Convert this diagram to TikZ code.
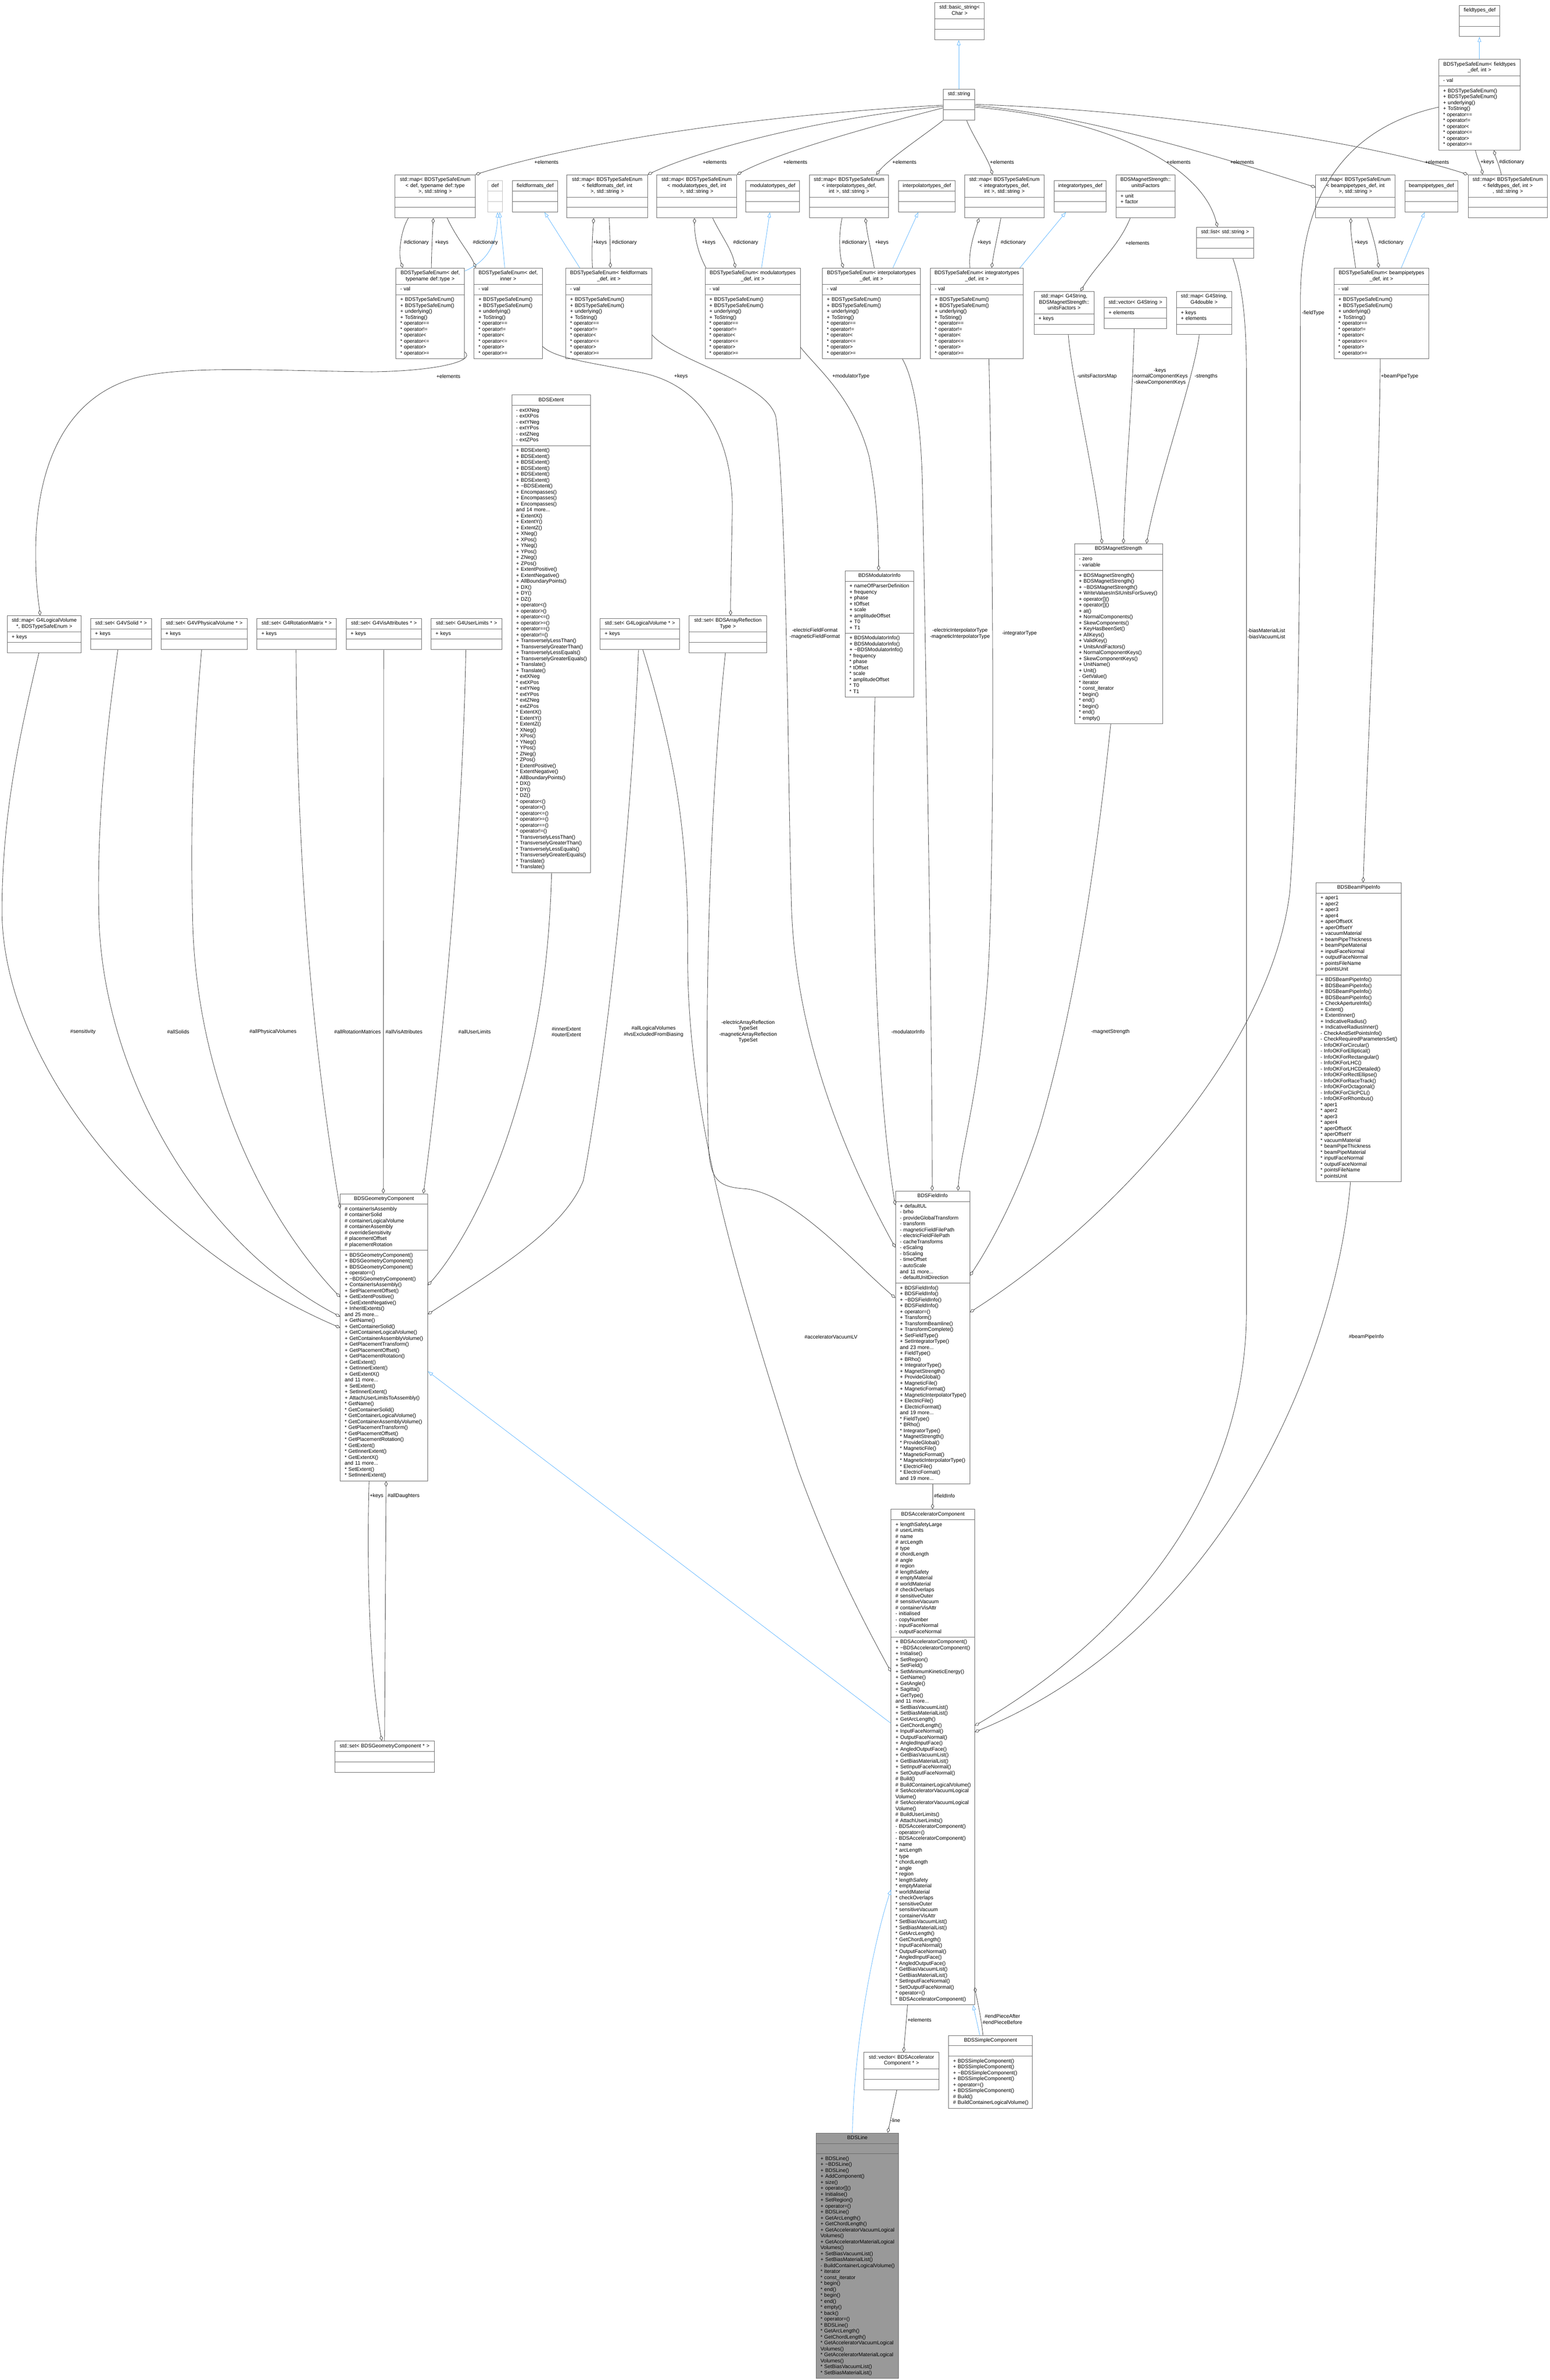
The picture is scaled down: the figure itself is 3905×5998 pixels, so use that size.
\documentclass[tikz,border=0pt]{standalone}
\usepackage{fontspec}
\setmainfont{Liberation Sans}
\usetikzlibrary{shapes.multipart,arrows.meta}
\setlength\parindent{0pt}
\definecolor{bordergray}{HTML}{666666}
\definecolor{edgegray}{HTML}{404040}
\definecolor{inhblue}{HTML}{63B8FF}
\definecolor{fadegray}{HTML}{BFBFBF}
\definecolor{linefill}{HTML}{999999}
\newcommand\fsz{\fontsize{13}{15}\selectfont}
\newcommand\Li[1]{\mbox{\strut#1}\par}
\newcommand\Hl[1]{\makebox[\hsize]{\strut#1}\par}
\newcommand\EE{\nodepart{two}\strut\nodepart{three}\strut}
\newcommand\KE{\nodepart{two}\Li{+ keys}\nodepart{three}\strut}
\newcommand\TSEbody{\nodepart{two}\Li{- val}\nodepart{three}\Li{+ BDSTypeSafeEnum()}\Li{+ BDSTypeSafeEnum()}\Li{+ underlying()}\Li{+ ToString()}\Li{* operator==}\Li{* operator!=}\Li{* operator<}\Li{* operator<=}\Li{* operator>}\Li{* operator>=}}
\newcommand\cls[5][]{\node[cls,#1,text width=#4pt] (#2) at (#3) {#5};}
\begin{document}
\begin{tikzpicture}[x=1pt,y=-1pt,
 cls/.style={rectangle split, rectangle split parts=3, draw=bordergray, line width=1.2pt, fill=white, inner xsep=11pt, inner ysep=5pt, font=\fsz, anchor=north west},
 faded/.style={draw=fadegray},
 agg/.style={draw=edgegray, line width=1pt, -{Diamond[open,length=14pt,width=8pt]}},
 inh/.style={draw=inhblue, line width=1pt, -{Triangle[open,length=13pt,width=9pt]}},
 lbl/.style={font=\fsz, align=center, inner sep=0pt, text=black}]
\fill[white] (0,0) rectangle (3905,5998);
\useasboundingbox (0,0) rectangle (3905,5998);
% ---------- top rows
\cls{bstr}{2355,6}{103}{\Hl{std::basic\_string<}\Hl{Char >}\EE}
\cls{ftdef}{3677,13}{80}{\Hl{fieldtypes\_def}\EE}
\cls{str}{2376,224}{58}{\Hl{std::string}\EE}
\cls{tseft}{3625,149}{183}{\Hl{BDSTypeSafeEnum< fieldtypes}\Hl{\_def, int >}\TSEbody}
\cls{mdt}{995,440}{180}{\Hl{std::map< BDSTypeSafeEnum}\Hl{< def, typename def::type}\Hl{>, std::string >}\EE}
\cls[faded]{def}{1228,455}{16}{\Hl{def}\EE}
\cls{ffdef}{1291,455}{92}{\Hl{fieldformats\_def}\EE}
\cls{mff}{1428,440}{181}{\Hl{std::map< BDSTypeSafeEnum}\Hl{< fieldformats\_def, int}\Hl{>, std::string >}\EE}
\cls{mmod}{1654,440}{180}{\Hl{std::map< BDSTypeSafeEnum}\Hl{< modulatortypes\_def, int}\Hl{>, std::string >}\EE}
\cls{moddef}{1879,455}{113}{\Hl{modulatortypes\_def}\EE}
\cls{mint}{2039,440}{178}{\Hl{std::map< BDSTypeSafeEnum}\Hl{< interpolatortypes\_def,}\Hl{int >, std::string >}\EE}
\cls{intdef}{2264,455}{120}{\Hl{interpolatortypes\_def}\EE}
\cls{mintg}{2430,440}{179}{\Hl{std::map< BDSTypeSafeEnum}\Hl{< integratortypes\_def,}\Hl{int >, std::string >}\EE}
\cls{intgdef}{2656,455}{109}{\Hl{integratortypes\_def}\EE}
\cls{uf}{2812,440}{126}{\Hl{BDSMagnetStrength::}\Hl{unitsFactors}\nodepart{two}\Li{+ unit}\Li{+ factor}\nodepart{three}\strut}
\cls{lst}{3014,572}{123}{\Hl{std::list< std::string >}\EE}
\cls{mbp}{3315,440}{178}{\Hl{std::map< BDSTypeSafeEnum}\Hl{< beampipetypes\_def, int}\Hl{>, std::string >}\EE}
\cls{bpdef}{3540,455}{111}{\Hl{beampipetypes\_def}\EE}
\cls{mft}{3699,440}{178}{\Hl{std::map< BDSTypeSafeEnum}\Hl{< fieldtypes\_def, int >}\Hl{, std::string >}\EE}
% ---------- type safe enums
\cls{tdt}{997,675}{151}{\Hl{BDSTypeSafeEnum< def,}\Hl{typename def::type >}\TSEbody}
\cls{tdi}{1194,675}{150}{\Hl{BDSTypeSafeEnum< def,}\Hl{inner >}\TSEbody}
\cls{tff}{1425,675}{195}{\Hl{BDSTypeSafeEnum< fieldformats}\Hl{\_def, int >}\TSEbody}
\cls{tmod}{1776,675}{218}{\Hl{BDSTypeSafeEnum< modulatortypes}\Hl{\_def, int >}\TSEbody}
\cls{tint}{2072,675}{225}{\Hl{BDSTypeSafeEnum< interpolatortypes}\Hl{\_def, int >}\TSEbody}
\cls{tintg}{2344,675}{212}{\Hl{BDSTypeSafeEnum< integratortypes}\Hl{\_def, int >}\TSEbody}
\cls{muf}{2605,734}{130}{\Hl{std::map< G4String,}\Hl{BDSMagnetStrength::}\Hl{unitsFactors >}\KE}
\cls{vg4}{2782,749}{135}{\Hl{std::vector< G4String >}\nodepart{two}\Li{+ elements}\nodepart{three}\strut}
\cls{mg4d}{2964,734}{117}{\Hl{std::map< G4String,}\Hl{G4double >}\nodepart{two}\Li{+ keys}\Li{+ elements}\nodepart{three}\strut}
\cls{tbp}{3361,675}{217}{\Hl{BDSTypeSafeEnum< beampipetypes}\Hl{\_def, int >}\TSEbody}
% ---------- sets row
\cls{mlv}{18,1551}{164}{\Hl{std::map< G4LogicalVolume}\Hl{*, BDSTypeSafeEnum >}\KE}
\cls{ssol}{228,1558}{131}{\Hl{std::set< G4VSolid * >}\KE}
\cls{spv}{405,1558}{196}{\Hl{std::set< G4VPhysicalVolume * >}\KE}
\cls{srm}{647,1558}{178}{\Hl{std::set< G4RotationMatrix * >}\KE}
\cls{sva}{872,1558}{168}{\Hl{std::set< G4VisAttributes * >}\KE}
\cls{sul}{1086,1558}{156}{\Hl{std::set< G4UserLimits * >}\KE}
\cls{slv}{1512,1558}{178}{\Hl{std::set< G4LogicalVolume * >}\KE}
\cls{sarr}{1736,1551}{173}{\Hl{std::set< BDSArrayReflection}\Hl{Type >}\EE}
\cls{ext}{1289,995}{177}{\Hl{BDSExtent}\nodepart{two}\Li{- extXNeg}\Li{- extXPos}\Li{- extYNeg}\Li{- extYPos}\Li{- extZNeg}\Li{- extZPos}\nodepart{three}\Li{+ BDSExtent()}\Li{+ BDSExtent()}\Li{+ BDSExtent()}\Li{+ BDSExtent()}\Li{+ BDSExtent()}\Li{+ BDSExtent()}\Li{+ \textasciitilde BDSExtent()}\Li{+ Encompasses()}\Li{+ Encompasses()}\Li{+ Encompasses()}\Li{and 14 more...}\Li{+ ExtentX()}\Li{+ ExtentY()}\Li{+ ExtentZ()}\Li{+ XNeg()}\Li{+ XPos()}\Li{+ YNeg()}\Li{+ YPos()}\Li{+ ZNeg()}\Li{+ ZPos()}\Li{+ ExtentPositive()}\Li{+ ExtentNegative()}\Li{+ AllBoundaryPoints()}\Li{+ DX()}\Li{+ DY()}\Li{+ DZ()}\Li{+ operator<()}\Li{+ operator>()}\Li{+ operator<=()}\Li{+ operator>=()}\Li{+ operator==()}\Li{+ operator!=()}\Li{+ TransverselyLessThan()}\Li{+ TransverselyGreaterThan()}\Li{+ TransverselyLessEquals()}\Li{+ TransverselyGreaterEquals()}\Li{+ Translate()}\Li{+ Translate()}\Li{* extXNeg}\Li{* extXPos}\Li{* extYNeg}\Li{* extYPos}\Li{* extZNeg}\Li{* extZPos}\Li{* ExtentX()}\Li{* ExtentY()}\Li{* ExtentZ()}\Li{* XNeg()}\Li{* XPos()}\Li{* YNeg()}\Li{* YPos()}\Li{* ZNeg()}\Li{* ZPos()}\Li{* ExtentPositive()}\Li{* ExtentNegative()}\Li{* AllBoundaryPoints()}\Li{* DX()}\Li{* DY()}\Li{* DZ()}\Li{* operator<()}\Li{* operator>()}\Li{* operator<=()}\Li{* operator>=()}\Li{* operator==()}\Li{* operator!=()}\Li{* TransverselyLessThan()}\Li{* TransverselyGreaterThan()}\Li{* TransverselyLessEquals()}\Li{* TransverselyGreaterEquals()}\Li{* Translate()}\Li{* Translate()}}
\cls{modi}{2129,1438}{151}{\Hl{BDSModulatorInfo}\nodepart{two}\Li{+ nameOfParserDefinition}\Li{+ frequency}\Li{+ phase}\Li{+ tOffset}\Li{+ scale}\Li{+ amplitudeOffset}\Li{+ T0}\Li{+ T1}\nodepart{three}\Li{+ BDSModulatorInfo()}\Li{+ BDSModulatorInfo()}\Li{+ \textasciitilde BDSModulatorInfo()}\Li{* frequency}\Li{* phase}\Li{* tOffset}\Li{* scale}\Li{* amplitudeOffset}\Li{* T0}\Li{* T1}}
\cls{magst}{2707,1370}{200}{\Hl{BDSMagnetStrength}\nodepart{two}\Li{- zero}\Li{- variable}\nodepart{three}\Li{+ BDSMagnetStrength()}\Li{+ BDSMagnetStrength()}\Li{+ \textasciitilde BDSMagnetStrength()}\Li{+ WriteValuesInSIUnitsForSuvey()}\Li{+ operator[]()}\Li{+ operator[]()}\Li{+ at()}\Li{+ NormalComponents()}\Li{+ SkewComponents()}\Li{+ KeyHasBeenSet()}\Li{+ AllKeys()}\Li{+ ValidKey()}\Li{+ UnitsAndFactors()}\Li{+ NormalComponentKeys()}\Li{+ SkewComponentKeys()}\Li{+ UnitName()}\Li{+ Unit()}\Li{- GetValue()}\Li{* iterator}\Li{* const\_iterator}\Li{* begin()}\Li{* end()}\Li{* begin()}\Li{* end()}\Li{* empty()}}
\cls{bpi}{3316,2224}{192}{\Hl{BDSBeamPipeInfo}\nodepart{two}\Li{+ aper1}\Li{+ aper2}\Li{+ aper3}\Li{+ aper4}\Li{+ aperOffsetX}\Li{+ aperOffsetY}\Li{+ vacuumMaterial}\Li{+ beamPipeThickness}\Li{+ beamPipeMaterial}\Li{+ inputFaceNormal}\Li{+ outputFaceNormal}\Li{+ pointsFileName}\Li{+ pointsUnit}\nodepart{three}\Li{+ BDSBeamPipeInfo()}\Li{+ BDSBeamPipeInfo()}\Li{+ BDSBeamPipeInfo()}\Li{+ BDSBeamPipeInfo()}\Li{+ CheckApertureInfo()}\Li{+ Extent()}\Li{+ ExtentInner()}\Li{+ IndicativeRadius()}\Li{+ IndicativeRadiusInner()}\Li{- CheckAndSetPointsInfo()}\Li{- CheckRequiredParametersSet()}\Li{- InfoOKForCircular()}\Li{- InfoOKForElliptical()}\Li{- InfoOKForRectangular()}\Li{- InfoOKForLHC()}\Li{- InfoOKForLHCDetailed()}\Li{- InfoOKForRectEllipse()}\Li{- InfoOKForRaceTrack()}\Li{- InfoOKForOctagonal()}\Li{- InfoOKForClicPCL()}\Li{- InfoOKForRhombus()}\Li{* aper1}\Li{* aper2}\Li{* aper3}\Li{* aper4}\Li{* aperOffsetX}\Li{* aperOffsetY}\Li{* vacuumMaterial}\Li{* beamPipeThickness}\Li{* beamPipeMaterial}\Li{* inputFaceNormal}\Li{* outputFaceNormal}\Li{* pointsFileName}\Li{* pointsUnit}}
% ---------- lower classes
\cls{geo}{857,3008}{198}{\Hl{BDSGeometryComponent}\nodepart{two}\Li{\# containerIsAssembly}\Li{\# containerSolid}\Li{\# containerLogicalVolume}\Li{\# containerAssembly}\Li{\# overrideSensitivity}\Li{\# placementOffset}\Li{\# placementRotation}\nodepart{three}\Li{+ BDSGeometryComponent()}\Li{+ BDSGeometryComponent()}\Li{+ BDSGeometryComponent()}\Li{+ operator=()}\Li{+ \textasciitilde BDSGeometryComponent()}\Li{+ ContainerIsAssembly()}\Li{+ SetPlacementOffset()}\Li{+ GetExtentPositive()}\Li{+ GetExtentNegative()}\Li{+ InheritExtents()}\Li{and 25 more...}\Li{+ GetName()}\Li{+ GetContainerSolid()}\Li{+ GetContainerLogicalVolume()}\Li{+ GetContainerAssemblyVolume()}\Li{+ GetPlacementTransform()}\Li{+ GetPlacementOffset()}\Li{+ GetPlacementRotation()}\Li{+ GetExtent()}\Li{+ GetInnerExtent()}\Li{+ GetExtentX()}\Li{and 11 more...}\Li{+ SetExtent()}\Li{+ SetInnerExtent()}\Li{+ AttachUserLimitsToAssembly()}\Li{* GetName()}\Li{* GetContainerSolid()}\Li{* GetContainerLogicalVolume()}\Li{* GetContainerAssemblyVolume()}\Li{* GetPlacementTransform()}\Li{* GetPlacementOffset()}\Li{* GetPlacementRotation()}\Li{* GetExtent()}\Li{* GetInnerExtent()}\Li{* GetExtentX()}\Li{and 11 more...}\Li{* SetExtent()}\Li{* SetInnerExtent()}}
\cls{sgeo}{843,4387}{229}{\Hl{std::set< BDSGeometryComponent * >}\EE}
\cls{fld}{2256,3001}{165}{\Hl{BDSFieldInfo}\nodepart{two}\Li{+ defaultUL}\Li{- brho}\Li{- provideGlobalTransform}\Li{- transform}\Li{- magneticFieldFilePath}\Li{- electricFieldFilePath}\Li{- cacheTransforms}\Li{- eScaling}\Li{- bScaling}\Li{- timeOffset}\Li{- autoScale}\Li{and 11 more...}\Li{- defaultUnitDirection}\nodepart{three}\Li{+ BDSFieldInfo()}\Li{+ BDSFieldInfo()}\Li{+ \textasciitilde BDSFieldInfo()}\Li{+ BDSFieldInfo()}\Li{+ operator=()}\Li{+ Transform()}\Li{+ TransformBeamline()}\Li{+ TransformComplete()}\Li{+ SetFieldType()}\Li{+ SetIntegratorType()}\Li{and 23 more...}\Li{+ FieldType()}\Li{+ BRho()}\Li{+ IntegratorType()}\Li{+ MagnetStrength()}\Li{+ ProvideGlobal()}\Li{+ MagneticFile()}\Li{+ MagneticFormat()}\Li{+ MagneticInterpolatorType()}\Li{+ ElectricFile()}\Li{+ ElectricFormat()}\Li{and 19 more...}\Li{* FieldType()}\Li{* BRho()}\Li{* IntegratorType()}\Li{* MagnetStrength()}\Li{* ProvideGlobal()}\Li{* MagneticFile()}\Li{* MagneticFormat()}\Li{* MagneticInterpolatorType()}\Li{* ElectricFile()}\Li{* ElectricFormat()}\Li{and 19 more...}}
\cls{acc}{2245,3803}{188}{\Hl{BDSAcceleratorComponent}\nodepart{two}\Li{+ lengthSafetyLarge}\Li{\# userLimits}\Li{\# name}\Li{\# arcLength}\Li{\# type}\Li{\# chordLength}\Li{\# angle}\Li{\# region}\Li{\# lengthSafety}\Li{\# emptyMaterial}\Li{\# worldMaterial}\Li{\# checkOverlaps}\Li{\# sensitiveOuter}\Li{\# sensitiveVacuum}\Li{\# containerVisAttr}\Li{- initialised}\Li{- copyNumber}\Li{- inputFaceNormal}\Li{- outputFaceNormal}\nodepart{three}\Li{+ BDSAcceleratorComponent()}\Li{+ \textasciitilde BDSAcceleratorComponent()}\Li{+ Initialise()}\Li{+ SetRegion()}\Li{+ SetField()}\Li{+ SetMinimumKineticEnergy()}\Li{+ GetName()}\Li{+ GetAngle()}\Li{+ Sagitta()}\Li{+ GetType()}\Li{and 11 more...}\Li{+ SetBiasVacuumList()}\Li{+ SetBiasMaterialList()}\Li{+ GetArcLength()}\Li{+ GetChordLength()}\Li{+ InputFaceNormal()}\Li{+ OutputFaceNormal()}\Li{+ AngledInputFace()}\Li{+ AngledOutputFace()}\Li{+ GetBiasVacuumList()}\Li{+ GetBiasMaterialList()}\Li{+ SetInputFaceNormal()}\Li{+ SetOutputFaceNormal()}\Li{\# Build()}\Li{\# BuildContainerLogicalVolume()}\Li{\# SetAcceleratorVacuumLogical}\Li{Volume()}\Li{\# SetAcceleratorVacuumLogical}\Li{Volume()}\Li{\# BuildUserLimits()}\Li{\# AttachUserLimits()}\Li{- BDSAcceleratorComponent()}\Li{- operator=()}\Li{- BDSAcceleratorComponent()}\Li{* name}\Li{* arcLength}\Li{* type}\Li{* chordLength}\Li{* angle}\Li{* region}\Li{* lengthSafety}\Li{* emptyMaterial}\Li{* worldMaterial}\Li{* checkOverlaps}\Li{* sensitiveOuter}\Li{* sensitiveVacuum}\Li{* containerVisAttr}\Li{* SetBiasVacuumList()}\Li{* SetBiasMaterialList()}\Li{* GetArcLength()}\Li{* GetChordLength()}\Li{* InputFaceNormal()}\Li{* OutputFaceNormal()}\Li{* AngledInputFace()}\Li{* AngledOutputFace()}\Li{* GetBiasVacuumList()}\Li{* GetBiasMaterialList()}\Li{* SetInputFaceNormal()}\Li{* SetOutputFaceNormal()}\Li{* operator=()}\Li{* BDSAcceleratorComponent()}}
\cls{vacc}{2176,5172}{168}{\Hl{std::vector< BDSAccelerator}\Hl{Component * >}\EE}
\cls{simp}{2390,5129}{189}{\Hl{BDSSimpleComponent}\nodepart{two}\strut\nodepart{three}\Li{+ BDSSimpleComponent()}\Li{+ BDSSimpleComponent()}\Li{+ \textasciitilde BDSSimpleComponent()}\Li{+ BDSSimpleComponent()}\Li{+ operator=()}\Li{+ BDSSimpleComponent()}\Li{\# Build()}\Li{\# BuildContainerLogicalVolume()}}
\cls[fill=linefill]{line}{2056,5375}{186}{\Hl{BDSLine}\nodepart{two}\strut\nodepart{three}\Li{+ BDSLine()}\Li{+ \textasciitilde BDSLine()}\Li{+ BDSLine()}\Li{+ AddComponent()}\Li{+ size()}\Li{+ operator[]()}\Li{+ Initialise()}\Li{+ SetRegion()}\Li{+ operator=()}\Li{+ BDSLine()}\Li{+ GetArcLength()}\Li{+ GetChordLength()}\Li{+ GetAcceleratorVacuumLogical}\Li{Volumes()}\Li{+ GetAcceleratorMaterialLogical}\Li{Volumes()}\Li{+ SetBiasVacuumList()}\Li{+ SetBiasMaterialList()}\Li{- BuildContainerLogicalVolume()}\Li{* iterator}\Li{* const\_iterator}\Li{* begin()}\Li{* end()}\Li{* begin()}\Li{* end()}\Li{* empty()}\Li{* back()}\Li{* operator=()}\Li{* BDSLine()}\Li{* GetArcLength()}\Li{* GetChordLength()}\Li{* GetAcceleratorVacuumLogical}\Li{Volumes()}\Li{* GetAcceleratorMaterialLogical}\Li{Volumes()}\Li{* SetBiasVacuumList()}\Li{* SetBiasMaterialList()}}
% ---------- inheritance
\draw[inh] ([shift={(40,0)}]str.north west) -- ([shift={(61,0)}]bstr.south west);
\draw[inh] ([shift={(103,0)}]tseft.north west) -- ([shift={(51,0)}]ftdef.south west);
\draw[inh] ([shift={(0,8)}]tdt.north east) .. controls (1225,660) and (1252,620) .. ([shift={(26,0)}]def.south west);
\draw[inh] ([shift={(78,0)}]tdi.north west) -- ([shift={(31,0)}]def.south west);
\draw[inh] ([shift={(36,0)}]tff.north west) -- ([shift={(81,0)}]ffdef.south west);
\draw[inh] ([shift={(143,0)}]tmod.north west) -- ([shift={(61,0)}]moddef.south west);
\draw[inh] ([shift={(178,0)}]tint.north west) -- ([shift={(50,0)}]intdef.south west);
\draw[inh] ([shift={(226,0)}]tintg.north west) -- ([shift={(30,0)}]intgdef.south west);
\draw[inh] ([shift={(170,0)}]tbp.north west) -- ([shift={(50,0)}]bpdef.south west);
\draw[inh] ([shift={(0,540)}]acc.north west) -- ([shift={(0,448)}]geo.north east);
\draw[inh] ([shift={(79,0)}]simp.north west) -- ([shift={(207,0)}]acc.south west);
\draw[inh] ([shift={(92,0)}]line.north west) .. controls (2152,5150) and (2200,4900) .. ([shift={(0,959)}]acc.north west);
% ---------- aggregations
\draw[agg] ([shift={(34,0)}]mdt.south west) .. controls (1010,580) and (1003,640) .. ([shift={(18,0)}]tdt.north west);
\draw[agg] ([shift={(90,0)}]tdt.north west) .. controls (1088,620) and (1090,580) .. ([shift={(97,0)}]mdt.south west);
\draw[agg] ([shift={(132,0)}]mdt.south west) .. controls (1150,600) and (1185,640) .. ([shift={(5,0)}]tdi.north west);
\draw[agg] ([shift={(68,0)}]tff.north west) .. controls (1490,630) and (1494,580) .. ([shift={(68,0)}]mff.south west);
\draw[agg] ([shift={(107,0)}]mff.south west) .. controls (1537,590) and (1538,630) .. ([shift={(113,0)}]tff.north west);
\draw[agg] ([shift={(3,0)}]tmod.north west) .. controls (1755,630) and (1750,590) .. ([shift={(96,0)}]mmod.south west);
\draw[agg] ([shift={(142,0)}]mmod.south west) .. controls (1815,590) and (1845,630) .. ([shift={(77,0)}]tmod.north west);
\draw[agg] ([shift={(83,0)}]mint.south west) .. controls (2113,590) and (2115,640) .. ([shift={(53,0)}]tint.north west);
\draw[agg] ([shift={(131,0)}]tint.north west) .. controls (2195,630) and (2185,590) .. ([shift={(142,0)}]mint.south west);
\draw[agg] ([shift={(100,0)}]tintg.north west) .. controls (2440,630) and (2455,590) .. ([shift={(37,0)}]mintg.south west);
\draw[agg] ([shift={(92,0)}]mintg.south west) .. controls (2515,590) and (2505,630) .. ([shift={(155,0)}]tintg.north west);
\draw[agg] ([shift={(36,0)}]uf.south west) .. controls (2820,620) and (2760,670) .. ([shift={(118,0)}]muf.north west);
\draw[agg] ([shift={(55,0)}]tbp.north west) .. controls (3410,630) and (3403,590) .. ([shift={(89,0)}]mbp.south west);
\draw[agg] ([shift={(131,0)}]mbp.south west) .. controls (3458,590) and (3470,630) .. ([shift={(113,0)}]tbp.north west);
\draw[agg] ([shift={(93,0)}]tseft.south west) .. controls (3722,400) and (3733,420) .. ([shift={(37,0)}]mft.north west);
\draw[agg] ([shift={(84,0)}]mft.north west) .. controls (3778,415) and (3768,395) .. ([shift={(140,0)}]tseft.south west);
\draw[agg] ([shift={(0,41)}]str.north west) .. controls (1900,290) and (1450,360) .. (mdt.north east);
\draw[agg] ([shift={(0,44)}]str.north west) .. controls (2050,300) and (1760,380) .. (mff.north east);
\draw[agg] ([shift={(0,48)}]str.north west) .. controls (2150,330) and (1950,390) .. (mmod.north east);
\draw[agg] (str.south west) .. controls (2330,340) and (2240,400) .. ([shift={(169,0)}]mint.north west);
\draw[agg] ([shift={(60,0)}]str.south west) .. controls (2450,340) and (2490,400) .. ([shift={(71,0)}]mintg.north west);
\draw[agg] ([shift={(0,46)}]str.north east) .. controls (2800,300) and (3030,420) .. ([shift={(54,0)}]lst.north west);
\draw[agg] ([shift={(0,42)}]str.north east) .. controls (2750,290) and (3150,420) .. ([shift={(0,32)}]mbp.north west);
\draw[agg] ([shift={(0,39)}]str.north east) .. controls (2950,280) and (3450,360) .. (mft.north west);
\draw[agg] ([shift={(0,212)}]tdt.north east) .. controls (1200,910) and (1100,935) .. (937,937) .. controls (700,935) and (480,920) .. (350,950) .. controls (150,1000) and (88,1200) .. (90,1400) .. controls (90,1480) and (98,1520) .. ([shift={(83,0)}]mlv.north west);
\draw[agg] ([shift={(80,0)}]mlv.south west) .. controls (50,1850) and (5,2050) .. (5,2300) .. controls (10,2700) and (400,3150) .. ([shift={(0,338)}]geo.north west);
\draw[agg] ([shift={(69,0)}]ssol.south west) .. controls (260,1900) and (245,2100) .. (249,2300) .. controls (255,2700) and (500,3130) .. ([shift={(0,310)}]geo.north west);
\draw[agg] ([shift={(103,0)}]spv.south west) .. controls (485,1900) and (480,2100) .. (485,2300) .. controls (490,2700) and (650,3050) .. ([shift={(0,261)}]geo.north west);
\draw[agg] ([shift={(99,0)}]srm.south west) .. controls (748,2000) and (765,2500) .. ([shift={(0,38)}]geo.north west);
\draw[agg] ([shift={(95,0)}]sva.south west) -- ([shift={(109,0)}]geo.north west);
\draw[agg] ([shift={(88,0)}]sul.south west) .. controls (1165,2100) and (1120,2600) .. ([shift={(210,0)}]geo.north west);
\draw[agg] ([shift={(101,0)}]ext.south west) .. controls (1383,2450) and (1350,2650) .. (1280,2860) .. controls (1220,3040) and (1140,3170) .. ([shift={(0,231)}]geo.north east);
\draw[agg] ([shift={(97,0)}]slv.south west) .. controls (1590,2100) and (1530,2650) .. (1470,2975) .. controls (1420,3100) and (1250,3200) .. ([shift={(0,304)}]geo.north east);
\draw[agg] ([shift={(108,0)}]slv.south west) .. controls (1700,1900) and (1735,2100) .. (1733,2400) .. controls (1730,2800) and (1850,3200) .. (2010,3700) .. controls (2100,3950) and (2200,4130) .. ([shift={(0,410)}]acc.north west);
\draw[agg] ([shift={(92,0)}]sarr.south west) .. controls (1790,2000) and (1775,2500) .. (1785,2880) .. controls (1788,2975) and (1810,2992) .. (1880,2996) .. controls (2000,3010) and (2150,3180) .. ([shift={(0,270)}]fld.north west);
\draw[agg] ([shift={(0,198)}]tdi.north east) .. controls (1400,905) and (1500,915) .. (1620,940) .. controls (1800,980) and (1850,1150) .. (1845,1300) .. controls (1843,1420) and (1841,1500) .. ([shift={(105,0)}]sarr.north west);
\draw[agg] ([shift={(0,169)}]tff.north east) .. controls (1700,910) and (1930,960) .. (1955,1050) .. controls (1985,1300) and (1985,2000) .. (1995,2300) .. controls (2010,2650) and (2150,2950) .. ([shift={(0,143)}]fld.north west);
\draw[agg] ([shift={(0,200)}]tmod.north east) .. controls (2060,930) and (2150,1000) .. (2190,1150) .. controls (2210,1250) and (2214,1350) .. ([shift={(85,0)}]modi.north west);
\draw[agg] ([shift={(76,0)}]modi.south west) .. controls (2195,2100) and (2200,2700) .. ([shift={(0,36)}]fld.north west);
\draw[agg] ([shift={(202,0)}]tint.south west) .. controls (2300,950) and (2322,1050) .. (2325,1250) .. controls (2335,1800) and (2349,2600) .. ([shift={(93,0)}]fld.north west);
\draw[agg] ([shift={(148,0)}]tintg.south west) .. controls (2505,1500) and (2505,2200) .. (2490,2450) .. controls (2470,2750) and (2420,2900) .. ([shift={(158,0)}]fld.north west);
\draw[agg] ([shift={(87,0)}]muf.south west) .. controls (2700,950) and (2760,1200) .. ([shift={(70,0)}]magst.north west);
\draw[agg] ([shift={(76,0)}]vg4.south west) .. controls (2855,1000) and (2835,1200) .. ([shift={(124,0)}]magst.north west);
\draw[agg] ([shift={(58,0)}]mg4d.south west) .. controls (3010,950) and (2920,1200) .. ([shift={(182,0)}]magst.north west);
\draw[agg] ([shift={(92,0)}]magst.south west) .. controls (2770,2100) and (2720,2500) .. (2620,2840) .. controls (2570,3000) and (2500,3130) .. ([shift={(0,214)}]fld.north east);
\draw[agg] ([shift={(0,121)}]tseft.north west) .. controls (3400,320) and (3278,480) .. (3277,750) .. controls (3276,1200) and (3278,1900) .. (3250,2250) .. controls (3200,2650) and (2800,3080) .. ([shift={(0,306)}]fld.north east);
\draw[agg] ([shift={(93,0)}]lst.south west) .. controls (3130,720) and (3141,800) .. (3141,950) -- (3141,3300) .. controls (3141,3800) and (2800,4150) .. ([shift={(0,546)}]acc.north east);
\draw[agg] ([shift={(87,0)}]bpi.south west) .. controls (3370,3400) and (3100,4100) .. ([shift={(0,562)}]acc.north east);
\draw[agg] ([shift={(117,0)}]tbp.south west) .. controls (3475,1300) and (3450,1800) .. ([shift={(119,0)}]bpi.north west);
\draw[agg] ([shift={(94,0)}]fld.south west) -- ([shift={(105,0)}]acc.north west);
\draw[agg] ([shift={(73,0)}]geo.south west) .. controls (924,3950) and (930,4200) .. ([shift={(119,0)}]sgeo.north west);
\draw[agg] ([shift={(126,0)}]sgeo.north west) -- ([shift={(116,0)}]geo.south west);
\draw[agg] ([shift={(42,0)}]acc.south west) -- ([shift={(101,0)}]vacc.north west);
\draw[agg] ([shift={(84,0)}]vacc.south west) -- ([shift={(181,0)}]line.north west);
\draw[agg] ([shift={(87,0)}]simp.north west) .. controls (2472,5080) and (2462,5040) .. ([shift={(0,1205)}]acc.north east);
% ---------- labels
\node[lbl] (l1) at (1377,409) {+elements};
\node[lbl] (l2) at (1801,409) {+elements};
\node[lbl] (l3) at (2004,409) {+elements};
\node[lbl] (l4) at (2279,409) {+elements};
\node[lbl] (l5) at (2525,409) {+elements};
\node[lbl] (l6) at (2970,409) {+elements};
\node[lbl] (l7) at (3130,409) {+elements};
\node[lbl] (l8) at (3621,409) {+elements};
\node[lbl] (l9) at (3748,409) {+keys};
\node[lbl] (l10) at (3809,409) {\#dictionary};
\node[lbl] (l11) at (1049,612) {\#dictionary};
\node[lbl] (l12) at (1113,612) {+keys};
\node[lbl] (l13) at (1223,612) {\#dictionary};
\node[lbl] (l14) at (1512,612) {+keys};
\node[lbl] (l15) at (1573,612) {\#dictionary};
\node[lbl] (l16) at (1786,612) {+keys};
\node[lbl] (l17) at (1879,612) {\#dictionary};
\node[lbl] (l18) at (2153,612) {\#dictionary};
\node[lbl] (l19) at (2222,612) {+keys};
\node[lbl] (l20) at (2480,612) {+keys};
\node[lbl] (l21) at (2553,612) {\#dictionary};
\node[lbl] (l22) at (2866,612) {+elements};
\node[lbl] (l23) at (3430,612) {+keys};
\node[lbl] (l24) at (3505,612) {\#dictionary};
\node[lbl] (l25) at (3309,789) {-fieldType};
\node[lbl] (l26) at (1130,949) {+elements};
\node[lbl] (l27) at (1716,949) {+keys};
\node[lbl] (l28) at (2144,949) {+modulatorType};
\node[lbl] (l29) at (2764,949) {-unitsFactorsMap};
\node[lbl] (l30) at (2923,949) {-keys\\-normalComponentKeys\\-skewComponentKeys};
\node[lbl] (l31) at (3039,949) {-strengths};
\node[lbl] (l32) at (3527,949) {+beamPipeType};
\node[lbl] (l33) at (2053,1597) {-electricFieldFormat\\-magneticFieldFormat};
\node[lbl] (l34) at (2419,1597) {-electricInterpolatorType\\-magneticInterpolatorType};
\node[lbl] (l35) at (2569,1596) {-integratorType};
\node[lbl] (l36) at (3191,1597) {-biasMaterialList\\-biasVacuumList};
\node[lbl] (l37) at (209,2600) {\#sensitivity};
\node[lbl] (l38) at (449,2600) {\#allSolids};
\node[lbl] (l39) at (688,2600) {\#allPhysicalVolumes};
\node[lbl] (l40) at (901,2600) {\#allRotationMatrices};
\node[lbl] (l41) at (1018,2600) {\#allVisAttributes};
\node[lbl] (l42) at (1196,2600) {\#allUserLimits};
\node[lbl] (l43) at (1427,2600) {\#innerExtent\\\#outerExtent};
\node[lbl] (l44) at (1647,2600) {\#allLogicalVolumes\\\#lvsExcludedFromBiasing};
\node[lbl] (l45) at (1885,2600) {-electricArrayReflection\\TypeSet\\-magneticArrayReflection\\TypeSet};
\node[lbl] (l46) at (2288,2600) {-modulatorInfo};
\node[lbl] (l47) at (2798,2600) {-magnetStrength};
\node[lbl] (l48) at (2094,3369) {\#acceleratorVacuumLV};
\node[lbl] (l49) at (3443,3369) {\#beamPipeInfo};
\node[lbl] (l50) at (949,3770) {+keys};
\node[lbl] (l51) at (1017,3770) {\#allDaughters};
\node[lbl] (l52) at (2380,3770) {\#fieldInfo};
\node[lbl] (l53) at (2317,5090) {+elements};
\node[lbl] (l54) at (2526,5089) {\#endPieceAfter\\\#endPieceBefore};
\node[lbl] (l55) at (2256,5344) {-line};
\end{tikzpicture}
\end{document}
